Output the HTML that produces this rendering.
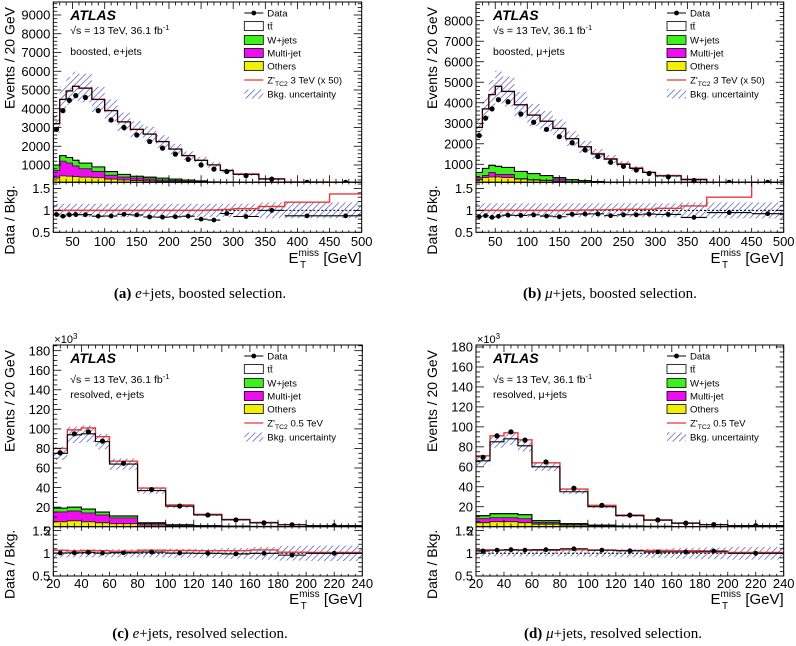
<!DOCTYPE html>
<html><head><meta charset="utf-8">
<style>
html,body{margin:0;padding:0;background:#fff;}
svg{display:block;font-family:"Liberation Sans",sans-serif;}
.cap{font-family:"Liberation Serif",serif;font-size:15px;}
</style></head>
<body>
<svg id="fig" width="796" height="646" viewBox="0 0 796 646" xmlns="http://www.w3.org/2000/svg">
<defs>
<pattern id="hatch" patternUnits="userSpaceOnUse" width="4.5" height="4.5" patternTransform="rotate(45)">
<line x1="0" y1="0" x2="0" y2="4.5" stroke="#4a56b8" stroke-width="1.4"/>
</pattern>
</defs>
</svg>
<script>
const boostEdges = [20,30,40,50,60,80,100,120,140,160,180,200,220,240,260,280,300,340,380,450,500];
const resEdges = [20,30,40,50,60,80,100,120,140,160,180,200,240];

const aTT    = [3200,4500,4950,5200,5100,4500,3900,3300,2900,2650,2250,1850,1500,1250,1000,700,500,250,80,40];
const aSig   = [3200,4500,4950,5200,5100,4500,3900,3300,2900,2650,2250,1850,1500,1250,1010,715,520,272,95,55];
const aGreen = [1000,1500,1400,1250,1100,900,650,500,400,350,300,250,200,150,100,60,40,20,10,5];
const aMag   = [700,1200,1100,950,800,650,450,350,300,250,200,170,130,100,70,40,25,12,5,3];
const aYel   = [300,420,400,380,350,320,250,200,170,150,130,110,90,70,50,30,20,10,5,2];
const aData  = [2900,3900,4450,4700,4600,3900,3400,3000,2600,2250,1900,1580,1300,1000,780,650,430,250,70,35];
const aUnc   = [0.15,0.15,0.15,0.15,0.15,0.15,0.15,0.15,0.15,0.15,0.15,0.15,0.15,0.15,0.15,0.15,0.15,0.18,0.18,0.18];

const bTT    = [2800,3700,4400,4800,4550,3900,3400,3100,2750,2250,1850,1500,1250,1000,800,600,430,250,100,40];
const bSig   = [2800,3700,4400,4800,4550,3900,3400,3100,2750,2250,1860,1520,1270,1020,820,615,450,275,130,68];
const bGreen = [600,800,950,900,850,650,550,450,350,250,200,160,120,90,60,40,25,12,5,2];
const bMag   = [350,450,600,500,500,300,250,220,280,150,120,100,70,50,35,20,15,8,3,1];
const bYel   = [250,350,380,380,350,280,230,200,170,140,110,90,70,50,35,20,15,8,3,1];
const bData  = [2400,3250,3700,4150,4050,3450,3050,2700,2350,2050,1700,1380,1100,900,720,550,390,210,95,37];
const bUnc   = [0.16,0.16,0.16,0.16,0.16,0.16,0.16,0.16,0.16,0.16,0.16,0.16,0.16,0.16,0.16,0.16,0.16,0.18,0.18,0.18];

const cTT    = [75,94,95,87,64,37,21,12,7,4,2,1];
const cSig   = [80,99,101,92,67,39.5,22.3,12.7,7.4,4.3,2.05,1.02];
const cGreen = [19,20,18,15,11,4,2,1,0.5,0.3,0.2,0.1];
const cMag   = [15,16,14,12,9,3,1.5,0.7,0.4,0.2,0.1,0.05];
const cYel   = [5,6,5,4,3,1.5,1,0.5,0.3,0.2,0.1,0.05];
const cData  = [75.5,95,97,87.5,64.8,38,21.1,12,6.9,4,1.92,1];
const cUnc   = [0.09,0.09,0.09,0.09,0.09,0.09,0.1,0.1,0.12,0.14,0.16,0.17];

const dTT    = [66,85,88,81,60,35,20,11,6.5,3.5,2,1];
const dSig   = [71,91,94,87,64,37.7,21.4,11.7,6.9,3.7,2.05,1.02];
const dGreen = [11,13,13,12,6,3,1.5,0.8,0.4,0.2,0.1,0.05];
const dMag   = [8,9,9,8,4,2,1,0.5,0.3,0.1,0.05,0.02];
const dYel   = [4,5,5,4,2.5,1.5,0.8,0.4,0.2,0.1,0.05,0.02];
const dData  = [69.5,91,95,86.7,64.8,38.5,21.4,11.6,6.7,3.6,2.1,1];
const dUnc   = [0.07,0.07,0.07,0.07,0.07,0.07,0.08,0.09,0.1,0.12,0.13,0.14];

const boostXTicks = [50,100,150,200,250,300,350,400,450,500];
const resXTicks = [20,40,60,80,100,120,140,160,180,200,220,240];
const aYTicks = [1000,2000,3000,4000,5000,6000,7000,8000,9000];
const bYTicks = [1000,2000,3000,4000,5000,6000,7000,8000];
const resYTicks = [20,40,60,80,100,120,140,160,180];
const ratioTicks = [0.5,1,1.5];

const NS = "http://www.w3.org/2000/svg";
const fig = document.getElementById('fig');
function mk(tag, attrs, parent){
  const e = document.createElementNS(NS, tag);
  for (const k in attrs) e.setAttribute(k, attrs[k]);
  (parent||fig).appendChild(e);
  return e;
}
function stepPath(edges, vals, fy){
  let d = '';
  for (let i=0;i<vals.length;i++){
    const y = fy(vals[i]);
    d += (i===0?'M':'L') + edges[i].toFixed(2)+','+y.toFixed(2)+' L'+edges[i+1].toFixed(2)+','+y.toFixed(2)+' ';
  }
  return d;
}
function fillPath(edges, lo, hi, fy){
  let d = 'M'+edges[0]+','+fy(lo[0]);
  for (let i=0;i<hi.length;i++) d += ' L'+edges[i]+','+fy(hi[i])+' L'+edges[i+1]+','+fy(hi[i]);
  for (let i=lo.length-1;i>=0;i--) d += ' L'+edges[i+1]+','+fy(lo[i])+' L'+edges[i]+','+fy(lo[i]);
  return d+' Z';
}

function panel(P){
  const g = mk('g', {});
  
  
  const {x0,x1,yTop,yMid,yBot,xmin,xmax,ymin,ymax,rmin,rmax} = P;
  const fx = v => x0 + (v-xmin)/(xmax-xmin)*(x1-x0);
  const fyRaw = v => yMid - (v-ymin)/(ymax-ymin)*(yMid-yTop);
  const fy = v => Math.max(yTop-2, Math.min(yMid, fyRaw(v)));
  const fr = v => Math.max(yMid, Math.min(yBot, yBot - (v-rmin)/(rmax-rmin)*(yBot-yMid)));
  const ex = P.edges.map(fx);
  const zero = P.tt.map(()=>ymin);
  const cid = 'clip'+P.id;
  const cp = mk('clipPath', {id:cid}, g);
  mk('rect',{x:x0,y:yTop,width:x1-x0,height:yMid-yTop},cp);
  const cid2 = 'clipr'+P.id;
  const cp2 = mk('clipPath', {id:cid2}, g);
  mk('rect',{x:x0,y:yMid,width:x1-x0,height:yBot-yMid},cp2);
  const main = mk('g',{'clip-path':'url(#'+cid+')'},g);
  const tt = mk('path',{d:fillPath(ex,P.green,P.tt,fy),fill:'#fff',stroke:'none'},main);
  
  
  const gr = mk('path',{d:fillPath(ex,P.mag,P.green,fy),fill:'#3ef01c',stroke:'#222','stroke-width':0.8},main);
  
  
  const mg = mk('path',{d:fillPath(ex,P.yel,P.mag,fy),fill:'#f00cf0',stroke:'#222','stroke-width':0.8},main);
  
  
  const ye = mk('path',{d:fillPath(ex,zero,P.yel,fy),fill:'#f0f000',stroke:'#222','stroke-width':0.8},main);
  
  
  for (let i=0;i<P.tt.length;i++){
    const hi = fy(P.tt[i]*(1+P.unc[i])), lo = fy(P.tt[i]*(1-P.unc[i]));
    const r = mk('rect',{x:ex[i],y:hi,width:ex[i+1]-ex[i],height:Math.max(0,lo-hi),fill:'url(#hatch)'},main);
    
    
  }
  const sig = mk('path',{d:stepPath(ex,P.sig,fy),fill:'none',stroke:'#e83838','stroke-width':1.4},main);
  
  
  mk('path',{d:fillPath(ex,P.green,P.tt,fy),fill:'none',stroke:'#000','stroke-width':1.1},main);
  for (let i=0;i<P.data.length;i++){
    const cx = (ex[i]+ex[i+1])/2, cy = fy(P.data[i]);
    const c = mk('circle',{cx:cx,cy:cy,r:2.6,fill:'#000'},main);
    
    
  }
  const rat = mk('g',{'clip-path':'url(#'+cid2+')'},g);
  for (let i=0;i<P.tt.length;i++){
    const hi = fr(1+P.unc[i]), lo = fr(1-P.unc[i]);
    const r = mk('rect',{x:ex[i],y:hi,width:ex[i+1]-ex[i],height:lo-hi,fill:'url(#hatch)'},rat);
    
    
  }
  mk('line',{x1:x0,x2:x1,y1:fr(1),y2:fr(1),stroke:'#000','stroke-width':1,'stroke-dasharray':'2,2'},rat);
  const rs = mk('path',{d:stepPath(ex,P.sig.map((v,i)=>v/P.tt[i]),fr),fill:'none',stroke:'#e83838','stroke-width':1.4},rat);
  
  
  for (let i=0;i<P.data.length;i++){
    const r = P.data[i]/P.tt[i];
    const cy = fr(r);
    const cx = (ex[i]+ex[i+1])/2;
    mk('line',{x1:ex[i],x2:ex[i+1],y1:cy,y2:cy,stroke:'#000','stroke-width':1.1},rat);
    const c = mk('circle',{cx:cx,cy:cy,r:2.4,fill:'#000'},rat);
    
    
  }
  mk('rect',{x:x0,y:yTop,width:x1-x0,height:yMid-yTop,fill:'none',stroke:'#000','stroke-width':1},g);
  mk('rect',{x:x0,y:yMid,width:x1-x0,height:yBot-yMid,fill:'none',stroke:'#000','stroke-width':1},g);
  for (let v=xmin; v<=xmax+1e-9; v+=P.xMinor){
    const X = fx(v);
    const major = P.xTicks.some(t=>Math.abs(t-v)<1e-6);
    const L = major?7:3.5;
    mk('line',{x1:X,x2:X,y1:yMid,y2:yMid-L,stroke:'#000','stroke-width':0.8},g);
    mk('line',{x1:X,x2:X,y1:yTop,y2:yTop+L,stroke:'#000','stroke-width':0.8},g);
    mk('line',{x1:X,x2:X,y1:yBot,y2:yBot-L*0.6,stroke:'#000','stroke-width':0.8},g);
    mk('line',{x1:X,x2:X,y1:yMid,y2:yMid+L*0.6,stroke:'#000','stroke-width':0.8},g);
  }
  P.xTicks.forEach(v=>{
    const t = mk('text',{x:fx(v),y:P.xLabY,'font-size':13,'text-anchor':'middle',fill:'#000'},g);
    t.textContent = v;
    
    
  });
  for (let v=0; v<=ymax; v+=P.yMinor){
    if (v<ymin) continue;
    const Y = fyRaw(v);
    if (Y<yTop) break;
    const major = P.yTicks.some(t=>Math.abs(t-v)<1e-6);
    const L = major?8:4;
    mk('line',{x1:x0,x2:x0+L,y1:Y,y2:Y,stroke:'#000','stroke-width':0.8},g);
    mk('line',{x1:x1,x2:x1-L,y1:Y,y2:Y,stroke:'#000','stroke-width':0.8},g);
  }
  P.yTicks.forEach(v=>{
    const t = mk('text',{x:x0-3,y:fyRaw(v)+4.7,'font-size':13,'text-anchor':'end',fill:'#000'},g);
    t.textContent = v;
    
    
  });
  for (let v=0.5; v<=rmax+1e-9; v+=0.1){
    const Y = fr(v);
    const major = ratioTicks.some(t=>Math.abs(t-v)<1e-6);
    const L = major?8:4;
    mk('line',{x1:x0,x2:x0+L,y1:Y,y2:Y,stroke:'#000','stroke-width':0.8},g);
    mk('line',{x1:x1,x2:x1-L,y1:Y,y2:Y,stroke:'#000','stroke-width':0.8},g);
  }
  ratioTicks.forEach(v=>{
    const t = mk('text',{x:x0-3,y:fr(v)+4.7,'font-size':13,'text-anchor':'end',fill:'#000'},g);
    t.textContent = v;
    
    
  });
  if (P.extra2){
    const t = mk('text',{x:x0-2,y:yMid+9,'font-size':13,'text-anchor':'end',fill:'#000'},g);
    t.textContent = '2';
    
    
  }
  if (P.x1e3){
    const t = mk('text',{x:x0+1,y:yTop-2,'font-size':11,fill:'#000'},g);
    t.innerHTML = '×10<tspan dy="-4" font-size="8">3</tspan>';
    
    
  }
  const yt = mk('text',{x:0,y:0,'font-size':14,'text-anchor':'end',transform:'translate('+(x0-39)+','+(yTop+5)+') rotate(-90)'},g);
  yt.textContent = 'Events / 20 GeV';
  
  
  const rt = mk('text',{x:0,y:0,'font-size':14,'text-anchor':'end',transform:'translate('+(x0-39)+','+(yMid+3)+') rotate(-90)'},g);
  rt.textContent = 'Data / Bkg.';
  
  
  const xt = mk('text',{x:x1,y:P.xTitY,'font-size':15,'text-anchor':'end'},g);
  xt.innerHTML = 'E<tspan font-size="10" dy="-7">miss</tspan><tspan font-size="10" dx="-19" dy="12">T</tspan><tspan dx="13" dy="-5"> [GeV]</tspan>';
  
  
  const at = mk('text',{x:x0+17,y:yTop+18,'font-size':14,'font-weight':'bold','font-style':'italic'},g);
  at.textContent = 'ATLAS';
  
  
  const en = mk('text',{x:x0+17,y:yTop+P.l2,'font-size':10.5},g);
  en.innerHTML = '√s = 13 TeV, 36.1 fb<tspan dy="-4" font-size="7.5">-1</tspan>';
  
  
  const sl = mk('text',{x:x0+17,y:yTop+53,'font-size':10.5},g);
  sl.textContent = P.sel;
  
  
  const lx = x0+191, lt = x0+214;
  const ly = [11,24,38,51,64,78,92].map(v=>yTop+v);
  const names = ['Data','tt̄','W+jets','Multi-jet','Others',null,'Bkg. uncertainty'];
  const lg = mk('g',{},g);
  
  
  mk('line',{x1:lx,x2:lx+19,y1:ly[0],y2:ly[0],stroke:'#000','stroke-width':1},lg);
  mk('circle',{cx:lx+9.5,cy:ly[0],r:2.4,fill:'#000'},lg);
  const fills = [null,'#fff','#3ef01c','#f00cf0','#f0f000'];
  for (let i=1;i<5;i++) mk('rect',{x:lx,y:ly[i]-4.5,width:19,height:9,fill:fills[i],stroke:'#000','stroke-width':0.8},lg);
  mk('line',{x1:lx,x2:lx+19,y1:ly[5],y2:ly[5],stroke:'#e83838','stroke-width':1.3},lg);
  mk('rect',{x:lx,y:ly[6]-4.5,width:19,height:9,fill:'url(#hatch)'},lg);
  for (let i=0;i<7;i++){
    const t = mk('text',{x:lt,y:ly[i]+3.6,'font-size':9.6},lg);
    if (i===5) t.innerHTML = "Z'<tspan font-size='6.8' dy='2.5'>TC2</tspan><tspan dy='-2.5'> "+P.sigLab+"</tspan>";
    else t.textContent = names[i];
    
    
  }
  const cap = mk('text',{x:P.capX,y:P.capY,'text-anchor':'middle',class:'cap'},g);
  cap.innerHTML = P.cap;
  
  
}

const boostCommon = {yTop:2,yMid:182.3,yBot:232.3,xmin:20,xmax:500,rmin:0.5,rmax:1.64,xMinor:10,yMinor:200,xTicks:boostXTicks,xLabY:246,xTitY:263,l2:32,edges:boostEdges,capY:298,sigLab:'3 TeV (x 50)'};
const resCommon = {yTop:345,yMid:526.7,yBot:576,xmin:20,xmax:240,ymin:0,rmin:0.5,rmax:1.586,xMinor:5,yMinor:5,xTicks:resXTicks,yTicks:resYTicks,xLabY:588,xTitY:604,l2:38,edges:resEdges,capY:638,sigLab:'0.5 TeV',extra2:true,x1e3:true};

panel(Object.assign({},boostCommon,{id:'a',name:'panel-a-e-boosted',x0:53.3,x1:361.7,ymin:77,ymax:9693,yTicks:aYTicks,tt:aTT,sig:aSig,green:aGreen,mag:aMag,yel:aYel,data:aData,unc:aUnc,sel:'boosted, e+jets',capX:200,cap:'<tspan font-weight="bold">(a)</tspan>  <tspan font-style="italic">e</tspan>+jets, boosted selection.'}));
panel(Object.assign({},boostCommon,{id:'b',name:'panel-b-mu-boosted',x0:476,x1:783.7,ymin:122,ymax:8912,yTicks:bYTicks,tt:bTT,sig:bSig,green:bGreen,mag:bMag,yel:bYel,data:bData,unc:bUnc,sel:'boosted, μ+jets',capX:610,cap:'<tspan font-weight="bold">(b)</tspan>  <tspan font-style="italic">μ</tspan>+jets, boosted selection.'}));
panel(Object.assign({},resCommon,{id:'c',name:'panel-c-e-resolved',x0:53.3,x1:362.3,ymax:185.8,tt:cTT,sig:cSig,green:cGreen,mag:cMag,yel:cYel,data:cData,unc:cUnc,sel:'resolved, e+jets',capX:200,cap:'<tspan font-weight="bold">(c)</tspan>  <tspan font-style="italic">e</tspan>+jets, resolved selection.'}));
panel(Object.assign({},resCommon,{id:'d',name:'panel-d-mu-resolved',x0:476,x1:783.7,ymax:182,tt:dTT,sig:dSig,green:dGreen,mag:dMag,yel:dYel,data:dData,unc:dUnc,sel:'resolved, μ+jets',capX:613,cap:'<tspan font-weight="bold">(d)</tspan>  <tspan font-style="italic">μ</tspan>+jets, resolved selection.'}));
</script>
</body></html>
